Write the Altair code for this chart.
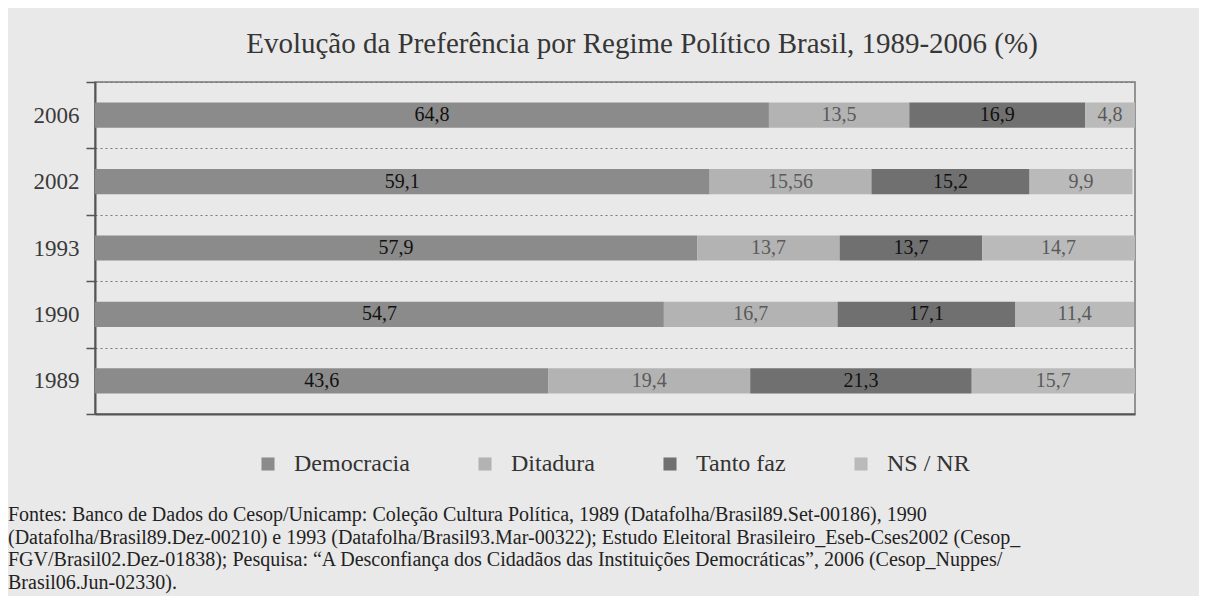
import altair as alt
import pandas as pd

years = ["2006", "2002", "1993", "1990", "1989"]
categories = ["Democracia", "Ditadura", "Tanto faz", "NS / NR"]
democracia = [64.8, 59.1, 57.9, 54.7, 43.6]
ditadura = [13.5, 15.56, 13.7, 16.7, 19.4]
tanto_faz = [16.9, 15.2, 13.7, 17.1, 21.3]
ns_nr = [4.8, 9.9, 14.7, 11.4, 15.7]
colors = ["#8b8b8b", "#b3b3b3", "#707070", "#bababa"]

title_text = "Evolução da Preferência por Regime Político Brasil, 1989-2006 (%)"
footer_lines = [
    "Fontes: Banco de Dados do Cesop/Unicamp: Coleção Cultura Política, 1989 (Datafolha/Brasil89.Set-00186), 1990",
    "(Datafolha/Brasil89.Dez-00210) e 1993 (Datafolha/Brasil93.Mar-00322); Estudo Eleitoral Brasileiro_Eseb-Cses2002 (Cesop_",
    "FGV/Brasil02.Dez-01838); Pesquisa: “A Desconfiança dos Cidadãos das Instituições Democráticas”, 2006 (Cesop_Nuppes/",
    "Brasil06.Jun-02330).",
]

series = [democracia, ditadura, tanto_faz, ns_nr]
rows = []
for ci, (cat, vals) in enumerate(zip(categories, series)):
    for yr, v in zip(years, vals):
        rows.append({"year": yr, "category": cat, "order": ci, "value": v,
                     "label": str(v).replace(".", ",")})
df = pd.DataFrame(rows)

SERIF = "Liberation Serif"

base = alt.Chart(df).transform_stack(
    stack="value", groupby=["year"], as_=["x0", "x1"],
    sort=[alt.SortField("order", order="ascending")],
).transform_calculate(mid="(datum.x0 + datum.x1) / 2")

yenc = alt.Y("year:N", sort=years, title=None,
             scale=alt.Scale(paddingInner=0, paddingOuter=0),
             axis=alt.Axis(tickBand="extent", tickSize=9, tickColor="#555", tickWidth=1.5,
                           labelFont=SERIF, labelFontSize=23, labelColor="#3a3a3a",
                           labelPadding=7, domainColor="#555", domainWidth=2,
                           grid=True, gridDash=[2, 3], gridColor="#777", gridWidth=1))

bars = base.mark_bar(height={"band": 0.38}).encode(
    x=alt.X("x0:Q", scale=alt.Scale(domain=[0, 100], nice=False, zero=True),
            axis=alt.Axis(labels=False, ticks=False, title=None, grid=False,
                          domainColor="#555", domainWidth=2)),
    x2="x1:Q",
    y=yenc,
    color=alt.Color("category:N", sort=categories,
                    scale=alt.Scale(domain=categories, range=colors),
                    legend=alt.Legend(title=None, orient="none", direction="horizontal",
                                      legendX=161, legendY=370, symbolType="square",
                                      symbolSize=170, symbolStrokeWidth=0,
                                      labelFont=SERIF, labelFontSize=24, labelColor="#333",
                                      labelOffset=14, columnPadding=63, labelLimit=300)),
)

labels = base.mark_text(font=SERIF, fontSize=20, baseline="middle", align="center").encode(
    x=alt.X("mid:Q"),
    y=alt.Y("year:N", sort=years),
    text="label:N",
    color=alt.condition(
        alt.FieldOneOfPredicate(field="category", oneOf=["Democracia", "Tanto faz"]),
        alt.value("#111111"), alt.value("#5a5a5a")),
)

footer = alt.Chart(pd.DataFrame({"a": [0]})).mark_text(
    font=SERIF, fontSize=20, align="left", baseline="alphabetic",
    lineHeight=22.5, color="#222222",
).encode(x=alt.value(-87), y=alt.value(439), text=alt.value(footer_lines))

chart = alt.layer(bars, labels, footer).properties(
    width=1040, height=332,
    autosize=alt.AutoSizeParams(type="none"),
    padding={"left": 87, "top": 74, "right": 64, "bottom": 182},
    background="#e9e9e9",
    title=alt.TitleParams(title_text, font=SERIF, fontSize=29, color="#363636",
                          fontWeight="normal", anchor="middle", dx=27, offset=12),
).configure_view(stroke="#777", strokeWidth=1.5)

chart.save("out.html", embed_options={"renderer": "svg", "actions": False})
